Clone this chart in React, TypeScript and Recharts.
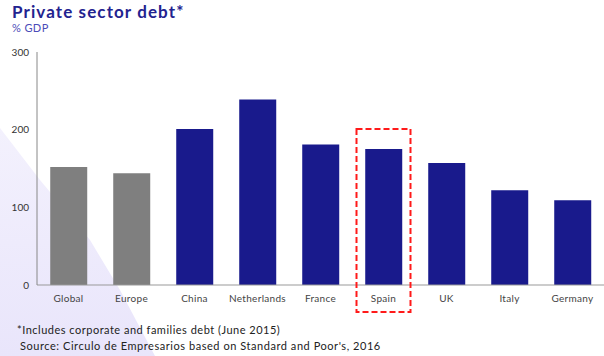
import React from "react";
import { Bar, BarChart, Cell, XAxis, YAxis } from "recharts";

const countries = ["Global", "Europe", "China", "Netherlands", "France", "Spain", "UK", "Italy", "Germany"];
const debt = [152, 144, 201, 239, 181, 175, 157, 122, 109];
const yTicks = [0, 100, 200, 300];
const greyBars = ["Global", "Europe"];
const highlight = "Spain";

const data = countries.map((name, i) => ({ name, value: debt[i] }));

const font = "'Lato', 'DejaVu Sans', sans-serif";

const CountryTick = (props: any) => {
  const { x, y, payload } = props;
  return (
    <g>
      {payload.value === highlight && (
        <rect
          x={x - 27}
          y={y - 164}
          width={54}
          height={183}
          fill="none"
          stroke="#ff1a1a"
          strokeWidth={2}
          strokeDasharray="6 3"
        />
      )}
      <text x={x} y={y + 9} textAnchor="middle" fontSize={10} fill="#444" fontFamily={font} letterSpacing={0.3}>
        {payload.value}
      </text>
    </g>
  );
};

export default function App() {
  return (
    <div style={{ position: "absolute", left: 0, top: 0, width: 604, height: 356, background: "#fff", fontFamily: font }}>
      <svg width={604} height={356} style={{ position: "absolute", left: 0, top: 0 }}>
        <defs>
          <linearGradient id="deco" x1="0" y1="0" x2="0" y2="1">
            <stop offset="0%" stopColor="#f3f1fd" />
            <stop offset="100%" stopColor="#e9e5fb" />
          </linearGradient>
        </defs>
        <polygon points="0,128 40,180 90,240 120,290 155,356 0,356" fill="url(#deco)" />
      </svg>
      <div style={{ position: "absolute", left: 12, top: 1, fontSize: 17, fontWeight: 700, color: "#23238f", letterSpacing: 1.1 }}>
        Private sector debt*
      </div>
      <div style={{ position: "absolute", left: 12, top: 21, fontSize: 11, color: "#4b4bb8", letterSpacing: 0.4 }}>% GDP</div>
      <div style={{ position: "absolute", left: 0, top: 0 }}>
        <BarChart width={604} height={320} data={data} margin={{ top: 52, right: 0, bottom: 5, left: 7 }} barCategoryGap="21%">
          <XAxis dataKey="name" tickLine={false} axisLine={{ stroke: "#999" }} tick={<CountryTick />} interval={0} />
          <YAxis
            width={30}
            domain={[0, 300]}
            ticks={yTicks}
            tickLine={false}
            axisLine={{ stroke: "#888" }}
            tick={{ fontSize: 10, fill: "#333", fontFamily: font }}
          />
          <Bar dataKey="value" isAnimationActive={false}>
            {data.map((d) => (
              <Cell key={d.name} fill={greyBars.includes(d.name) ? "#7f7f7f" : "#191a8c"} />
            ))}
          </Bar>
        </BarChart>
      </div>
      <div style={{ position: "absolute", left: 17, top: 322, fontSize: 11, color: "#222", lineHeight: "16px" }}>
        <div style={{ letterSpacing: 0.5 }}>*Includes corporate and families debt (June 2015)</div>
        <div style={{ paddingLeft: 3, letterSpacing: 0.55 }}>Source: Circulo de Empresarios based on Standard and Poor's, 2016</div>
      </div>
    </div>
  );
}
